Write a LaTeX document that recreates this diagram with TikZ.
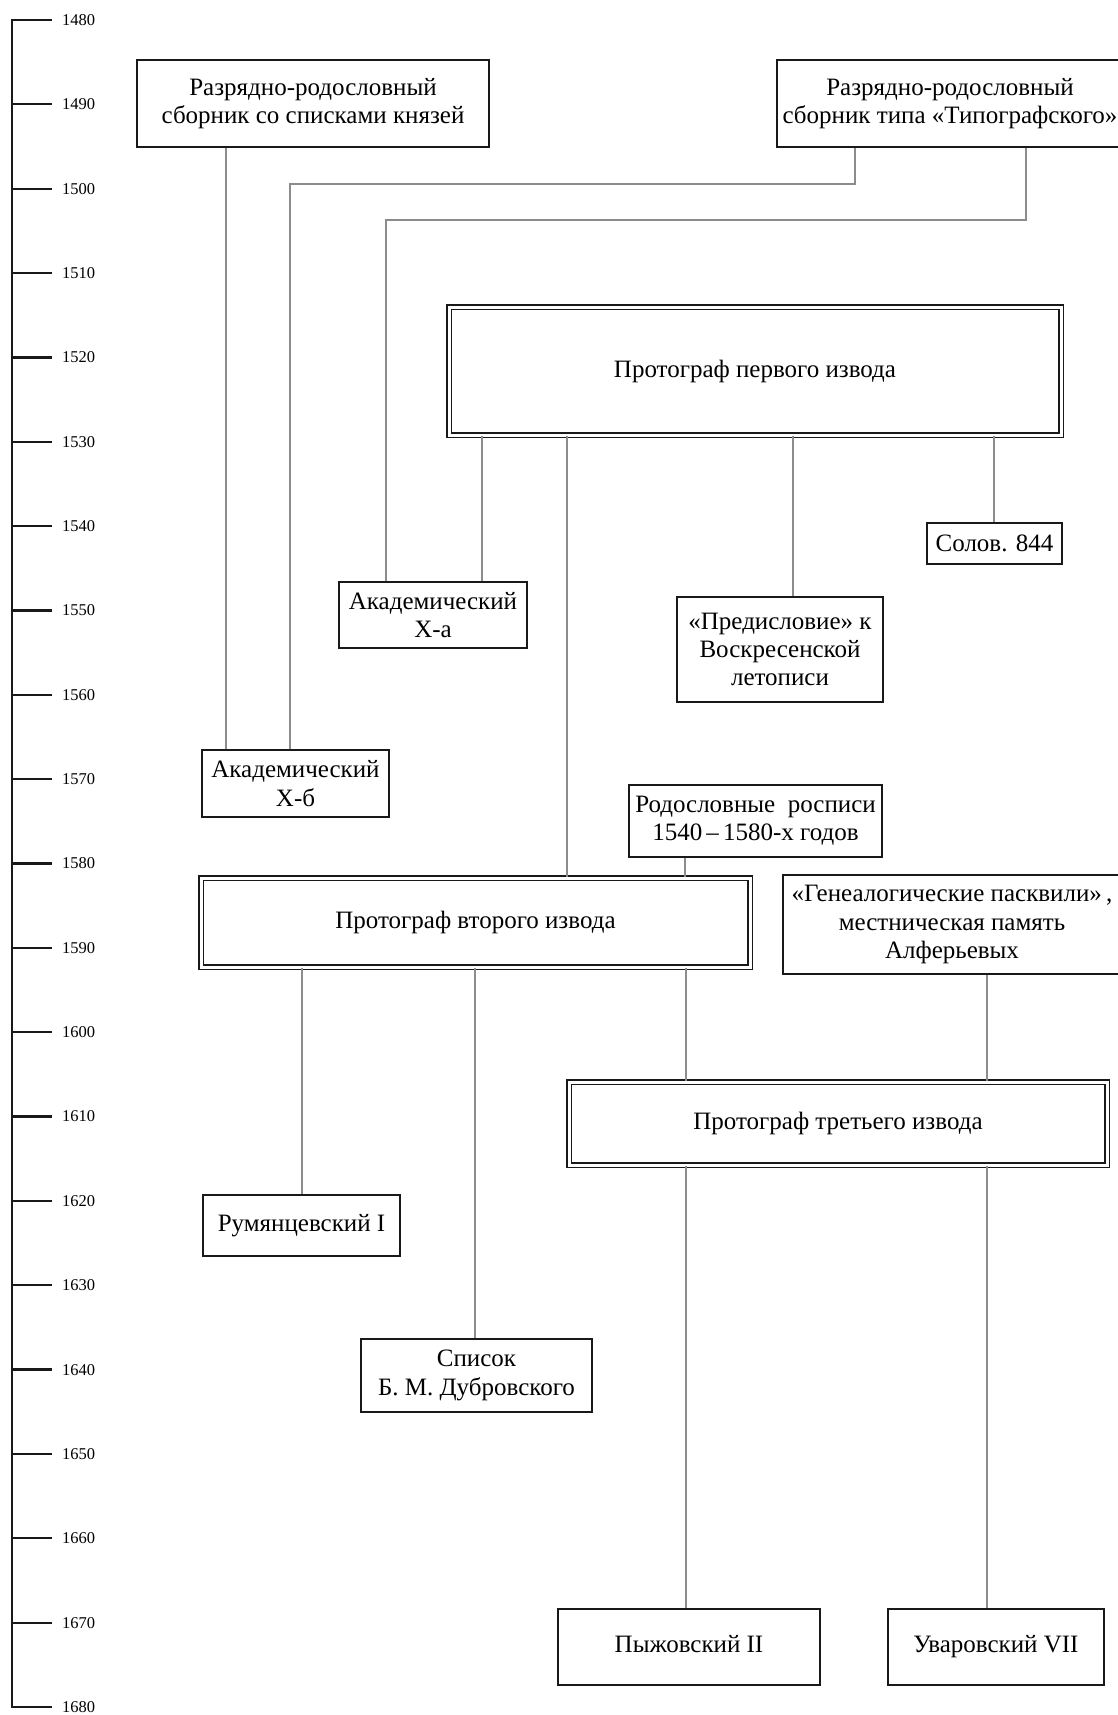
\documentclass[tikz,border=0pt]{standalone}
\usepackage{fontspec}
\setmainfont{Liberation Serif}
\newcommand{\boxfont}{\fontsize{25}{28.4}\selectfont}
\newcommand{\yearfont}{\fontsize{16.5}{19}\selectfont}
\tikzset{
  box/.style={draw=black!90, line width=1.6pt, inner sep=0pt, align=center, font=\boxfont, fill=white},
  dbox/.style={box, double=white, double distance=3pt, line width=1.6pt},
  conn/.style={draw=black!45, line width=1.3pt},
  axisline/.style={draw=black!90, line width=2.3pt},
  yearlabel/.style={anchor=west, inner sep=0pt, font=\yearfont},
}
\begin{document}
\begin{tikzpicture}[x=1pt,y=-1pt]
\useasboundingbox (0,0) rectangle (1118,1715);
\clip (0,0) rectangle (1118,1715);
\fill[white] (0,0) rectangle (1118,1715);

% time axis
\coordinate (axtop) at (12,20);
\coordinate (axbot) at (12,1707);
\draw[axisline, line cap=rect] (axtop) -- (axbot);
\foreach \yr [count=\i from 0] in {1480,1490,...,1680} {
  \coordinate (t\yr) at (12,{20+\i*84.35});
  \draw[axisline] (t\yr) -- ++(40,0);
  \node[yearlabel] (l\yr) at ([xshift=50pt]t\yr) {\yr};
}

% boxes
\node[box, minimum width=352, minimum height=87] (A1) at (313,103.5) {Разрядно-родословный\\ сборник со списками князей};
\node[box, minimum width=346, minimum height=87] (A2) at (950,103.5) {Разрядно-родословный\\ сборник типа «Типографского»};
\node[dbox, minimum width=612, minimum height=128] (P1) at (755,371) {Протограф первого извода};
\node[box, minimum width=135, minimum height=41] (S844) at (994.5,543.5) {Солов. 844};
\node[box, minimum width=188, minimum height=66] (Xa) at (433,615) {Академический\\ Х-а};
\node[box, minimum width=206, minimum height=105] (Pred) at (780,649.5) {«Предисловие» к\\ Воскресенской\\ летописи};
\node[box, minimum width=187, minimum height=67] (Xb) at (295.5,783.5) {Академический\\ Х-б};
\node[box, minimum width=253, minimum height=72] (Rod) at (755.5,821) {Родословные\ \ росписи\\ 1540\,–\,1580-х годов};
\node[dbox, minimum width=549, minimum height=89] (P2) at (475.5,922.5) {Протограф второго извода};
\node[box, minimum width=338, minimum height=99] (Gen) at (952,924.5) {«Генеалогические пасквили»\,,\\ местническая память\\ Алферьевых};
\node[dbox, minimum width=538, minimum height=83] (P3) at (838,1123.5) {Протограф третьего извода};
\node[box, minimum width=197, minimum height=61] (Rum) at (301.5,1225.5) {Румянцевский I};
\node[box, minimum width=231, minimum height=73] (Spis) at (476.5,1375.5) {Список\\ Б. М. Дубровского};
\node[box, minimum width=262, minimum height=76] (Pyzh) at (689,1647) {\strut Пыжовский II};
\node[box, minimum width=216, minimum height=76] (Uvar) at (996,1647) {\strut Уваровский VII};

% connectors
\draw[conn] (226,0 |- A1.south) -- (226,0 |- Xb.north);
\draw[conn] (855,0 |- A2.south) -- (855,184) -- (290,184) -- (290,0 |- Xb.north);
\draw[conn] (1026,0 |- A2.south) -- (1026,220) -- (386,220) -- (386,0 |- Xa.north);
\draw[conn] (482,0 |- P1.south) -- (482,0 |- Xa.north);
\draw[conn] (567,0 |- P1.south) -- (567,0 |- P2.north);
\draw[conn] (793,0 |- P1.south) -- (793,0 |- Pred.north);
\draw[conn] (994,0 |- P1.south) -- (994,0 |- S844.north);
\draw[conn] (685,0 |- Rod.south) -- (685,0 |- P2.north);
\draw[conn] (302,0 |- P2.south) -- (302,0 |- Rum.north);
\draw[conn] (475,0 |- P2.south) -- (475,0 |- Spis.north);
\draw[conn] (686,0 |- P2.south) -- (686,0 |- P3.north);
\draw[conn] (987,0 |- Gen.south) -- (987,0 |- P3.north);
\draw[conn] (686,0 |- P3.south) -- (686,0 |- Pyzh.north);
\draw[conn] (987,0 |- P3.south) -- (987,0 |- Uvar.north);
\end{tikzpicture}
\end{document}
